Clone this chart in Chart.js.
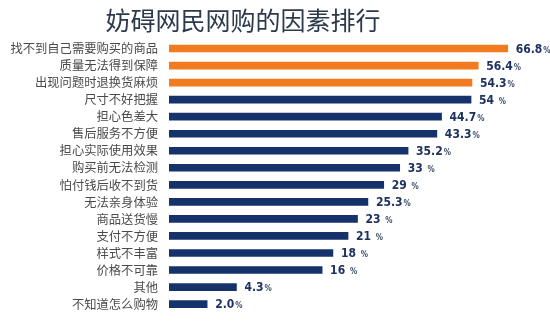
<!doctype html>
<html>

<head>
    <script src="https://cdn.jsdelivr.net/npm/chart.js@4.4.1/dist/chart.umd.min.js"></script>
    <meta charset="utf-8" />
    <title>妨碍网民网购的因素排行</title>
    <style>
        html, body { margin: 0; padding: 0; background: #fff; }
        #wrap { width: 550px; height: 331px; }
    </style>
</head>

<body>
    <div id="wrap"><canvas id="myChart"></canvas></div>
    <script>
        var chartTitle = '妨碍网民网购的因素排行';
        var categories = ['找不到自己需要购买的商品', '质量无法得到保障', '出现问题时退换货麻烦', '尺寸不好把握',
            '担心色差大', '售后服务不方便', '担心实际使用效果', '购买前无法检测', '怕付钱后收不到货',
            '无法亲身体验', '商品送货慢', '支付不方便', '样式不丰富', '价格不可靠', '其他', '不知道怎么购物'];
        var values = [66.8, 56.4, 54.3, 54, 44.7, 43.3, 35.2, 33, 29, 25.3, 23, 21, 18, 16, 4.3, 2.0];
        var valueText = ['66.8', '56.4', '54.3', '54 ', '44.7', '43.3', '35.2', '33 ', '29 ', '25.3',
            '23 ', '21 ', '18 ', '16 ', '4.3', '2.0'];
        var highlighted = 3; // first three bars in orange

        var orange = '#f37b1f';
        var navy = '#15326a';

        // the picture's bar lengths grow roughly with the square root of the value
        class SqrtScale extends Chart.LinearScale {
            getPixelForValue(value) {
                var lo = Math.sqrt(this.min), hi = Math.sqrt(this.max);
                var v = Math.sqrt(Math.max(value, this.min));
                return this.getPixelForDecimal((v - lo) / (hi - lo));
            }
            getValueForPixel(pixel) {
                var lo = Math.sqrt(this.min), hi = Math.sqrt(this.max);
                var s = lo + this.getDecimalForPixel(pixel) * (hi - lo);
                return s * s;
            }
        }
        SqrtScale.id = 'sqrt';
        SqrtScale.defaults = Chart.LinearScale.defaults;
        Chart.register(SqrtScale);

        var labelPlugin = {
            id: 'valueLabels',
            afterDatasetsDraw: function (chart) {
                var ctx = chart.ctx;
                var meta = chart.getDatasetMeta(0);
                ctx.save();
                ctx.textBaseline = 'middle';
                meta.data.forEach(function (bar, i) {
                    var x = bar.x + 8;
                    var y = bar.y + 1;
                    ctx.font = 'bold 12px "DejaVu Sans Condensed", "Liberation Sans Narrow", sans-serif';
                    ctx.fillStyle = '#1d3260';
                    ctx.fillText(valueText[i], x, y);
                    var w = ctx.measureText(valueText[i]).width;
                    ctx.font = 'bold 8px "DejaVu Sans Condensed", sans-serif';
                    ctx.fillStyle = '#3a4a6a';
                    ctx.fillText('%', x + w + 1, y + 1);
                });
                ctx.restore();
            },
            afterDraw: function (chart) {
                var ctx = chart.ctx;
                ctx.save();
                ctx.font = '25px "Noto Sans CJK SC", sans-serif';
                ctx.fillStyle = '#2c3a4c';
                ctx.textAlign = 'center';
                ctx.textBaseline = 'middle';
                ctx.fillText(chartTitle, 243, 20);
                ctx.restore();
            }
        };

        var chart = new Chart(document.getElementById('myChart'), {
            type: 'bar',
            data: {
                labels: categories,
                datasets: [{
                    data: values,
                    backgroundColor: values.map(function (v, i) { return i < highlighted ? orange : navy; }),
                    barThickness: 7
                }]
            },
            options: {
                indexAxis: 'y',
                responsive: true,
                maintainAspectRatio: false,
                animation: false,
                layout: { padding: { left: 2, right: 10, top: 40, bottom: 2 } },
                plugins: {
                    legend: { display: false },
                    tooltip: { enabled: false }
                },
                scales: {
                    x: {
                        type: 'sqrt',
                        display: false,
                        min: 0.31,
                        max: 79.2
                    },
                    y: {
                        afterFit: function (scale) { scale.width = 167; },
                        grid: { display: false, drawTicks: false },
                        border: { display: false },
                        ticks: {
                            padding: 11,
                            color: '#4a4a4a',
                            font: { family: '"Noto Sans CJK SC", sans-serif', size: 12.3 }
                        }
                    }
                }
            },
            plugins: [labelPlugin]
        });
    </script>
</body>

</html>
